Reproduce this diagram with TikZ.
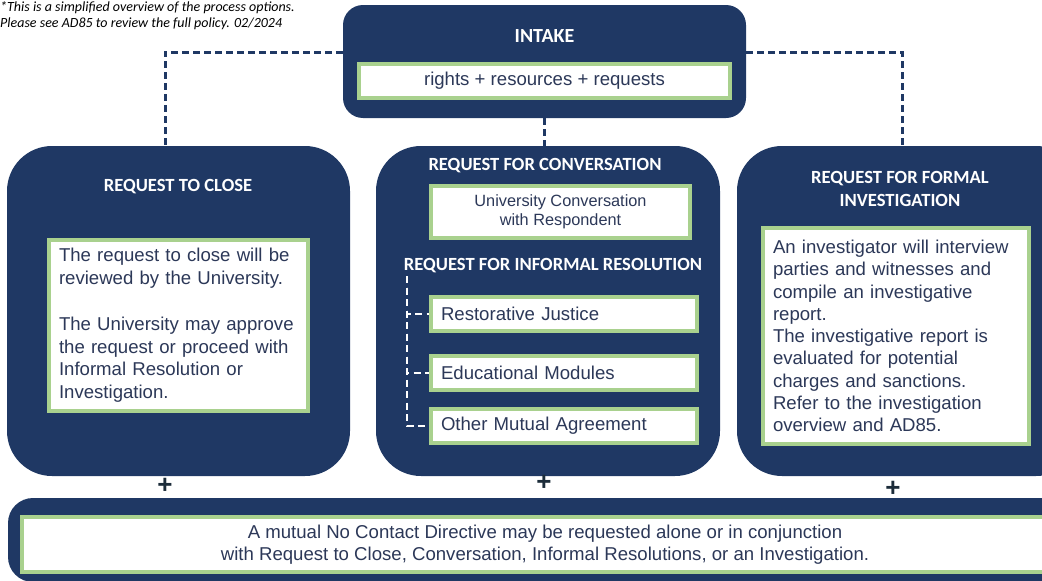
\documentclass[tikz,border=0pt]{standalone}
\usepackage{fontspec}
\setmainfont{Liberation Sans}
\newfontfamily\calibri{Carlito}
\usetikzlibrary{positioning}

\definecolor{navy}{RGB}{31,56,100}
\definecolor{leafgreen}{RGB}{169,209,142}
\definecolor{slate}{RGB}{44,56,88}
\definecolor{plusink}{RGB}{28,44,58}

\tikzset{
	panel/.style={fill=navy, inner sep=0pt},
	card/.style={fill=white, draw=leafgreen, line width=3.2pt, text=slate, font=\fontsize{18.6}{22.8}\selectfont},
	option/.style={card, text width=246pt, inner xsep=10pt, minimum height=34pt, align=left},
	heading/.style={text=white, font=\calibri\bfseries\fontsize{18.6}{23}\selectfont, align=center},
	link/.style={draw=navy, line width=3pt, dash pattern=on 7pt off 4pt},
	branch/.style={draw=white, line width=2.8pt, dash pattern=on 7pt off 4.5pt},
	plus/.style={text=plusink, inner sep=0pt, font=\bfseries\fontsize{26}{26}\selectfont},
}

\begin{document}
\begin{tikzpicture}[x=1pt, y=-1pt]
	\useasboundingbox (0,0) rectangle (1042,581);
	\clip (0,0) rectangle (1042,581);

	% Note at the top left
	\node[anchor=north west, inner sep=0pt, align=left, font=\calibri\itshape\fontsize{14}{16}\selectfont] (note) at (0,1)
		{*This is a simplified overview of the process options.\\Please see AD85 to review the full policy. 02/2024};

	% Intake
	\node[panel, rounded corners=20pt, minimum width=403pt, minimum height=113pt] (intake) at (544.5,61.5) {};
	\node[heading, font=\calibri\bfseries\fontsize{20}{24}\selectfont] (intaketitle) at (544.5,36) {INTAKE};
	\node[card, minimum width=371pt, minimum height=34pt] (rrr) at (544.5,81) {rights + resources + requests};

	% The three panels
	\node[panel, rounded corners=45pt, minimum width=343pt, minimum height=330pt] (closepanel) at (178.5,311) {};
	\node[panel, rounded corners=45pt, minimum width=344pt, minimum height=330pt] (convpanel) at (548,311) {};
	\node[panel, rounded corners=45pt, minimum width=344pt, minimum height=330pt] (formalpanel) at (909,311) {};

	% Request to close
	\node[heading] (closetitle) at (178,187) {REQUEST TO CLOSE};
	\node[card, text width=239pt, inner xsep=10pt, minimum height=171pt, align=left] (closecard) at (178.5,325.5)
		{The request to close will be\\reviewed by the University.\\[22.8pt]The University may approve\\the request or proceed with\\Informal Resolution or\\Investigation.};

	% Request for conversation
	\node[heading] (convtitle) at (545,166) {REQUEST FOR CONVERSATION};
	\node[card, minimum width=259pt, minimum height=52pt, align=center, font=\fontsize{16.3}{19.5}\selectfont] (convcard) at (560.5,212)
		{University Conversation\\with Respondent};
	\node[heading] (informaltitle) at (553,266) {REQUEST FOR INFORMAL RESOLUTION};
	\node[option] (rj) at (564,314) {Restorative Justice};
	\node[option] (em) at (564,373) {Educational Modules};
	\node[option] (oma) at (564,426) {Other Mutual Agreement};
	\coordinate (trunk) at (407,276);
	\draw[branch] (trunk) |- (rj.west);
	\draw[branch] (trunk) |- (em.west);
	\draw[branch] (trunk) |- (oma.west);

	% Request for formal investigation
	\node[heading] (formaltitle) at (900,188.5) {REQUEST FOR FORMAL\\INVESTIGATION};
	\node[card, text width=246pt, inner xsep=10pt, minimum height=216pt, align=left, font=\fontsize{18.6}{22.3}\selectfont] (formalcard) at (896,336)
		{An investigator will interview\\parties and witnesses and\\compile an investigative\\report.\\The investigative report is\\evaluated for potential\\charges and sanctions.\\Refer to the investigation\\overview and AD85.};

	% Dashed links from intake
	\draw[link] ([yshift=9.5pt]intake.west) -| ([xshift=-13.5pt]closepanel.north);
	\draw[link] ([yshift=9.5pt]intake.east) -| ([xshift=-7pt]formalpanel.north);
	\draw[link] (intake.south) -- (intake.south |- convpanel.north);

	% Plus signs
	\node[plus] (plusclose) at (165,486) {+};
	\node[plus] (plusconv) at (544,483) {+};
	\node[plus] (plusformal) at (893,489) {+};

	% No contact directive
	\node[panel, rounded corners=25pt, minimum width=1074pt, minimum height=84pt] (ncdpanel) at (545,540) {};
	\node[card, minimum width=1046pt, minimum height=55pt, align=center, font=\fontsize{18.6}{22}\selectfont] (ncdcard) at (545,544.5)
		{A mutual No Contact Directive may be requested alone or in conjunction\\with Request to Close, Conversation, Informal Resolutions, or an Investigation.};
\end{tikzpicture}
\end{document}
